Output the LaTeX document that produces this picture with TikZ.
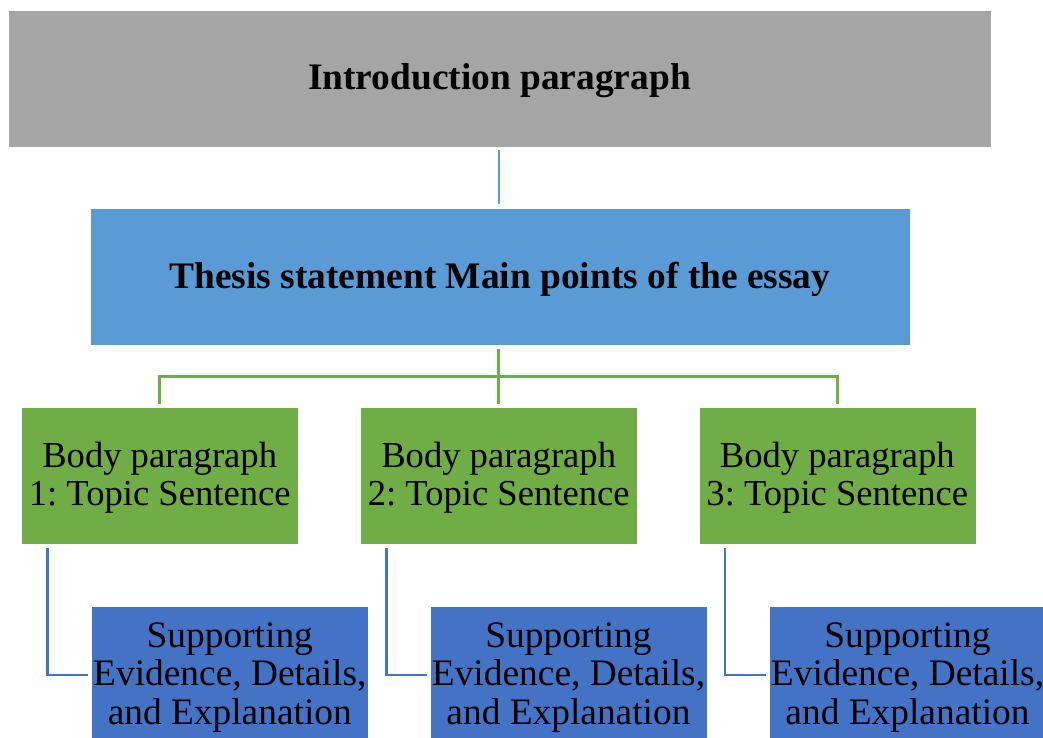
\documentclass[tikz,border=0pt]{standalone}
\usepackage{fontspec}
\setmainfont{Liberation Serif}
\frenchspacing
\definecolor{introgray}{HTML}{A5A5A5}
\definecolor{thesisblue}{HTML}{5B9BD5}
\definecolor{bodygreen}{HTML}{70AD47}
\definecolor{supblue}{HTML}{4472C4}
\newcommand\boxtext[2]{\raisebox{#1}[\height][\depth]{\begin{tabular}{@{}c@{}}#2\end{tabular}}}
\tikzset{
  box/.style={draw=white, line width=0.6pt, inner sep=0pt, align=center, minimum height=137pt},
  headbox/.style={box, font=\fontsize{37.4}{42}\selectfont\bfseries},
  bodybox/.style={box, fill=bodygreen, minimum width=277pt, font=\fontsize{36.6}{38}\selectfont},
  supbox/.style={box, fill=supblue, minimum width=277pt, font=\fontsize{37.4}{38.5}\selectfont},
  introlink/.style={draw=thesisblue, line width=2pt},
  greenlink/.style={draw=bodygreen, line width=2.5pt},
  bluelink/.style={draw=supblue, line width=2.5pt},
}
\begin{document}
\begin{tikzpicture}[x=1pt, y=-1pt]
\useasboundingbox (0,0) rectangle (1043,738);
\clip (0,0) rectangle (1043,738);
\fill[white] (0,0) rectangle (1043,738);

\node[headbox, fill=introgray, minimum width=983pt] (intro) at (499.5,78.5) {\boxtext{-3pt}{Introduction paragraph}};
\node[headbox, fill=thesisblue, minimum width=820pt] (thesis) at (500,277.2) {\boxtext{-2.5pt}{Thesis statement Main points of the essay}};

\node[bodybox] (b1) at (159.7,475.8) {\boxtext{-3.5pt}{Body paragraph\\1: Topic Sentence}};
\node[bodybox] (b2) at (498.7,475.8) {\boxtext{-3.5pt}{Body paragraph\\2: Topic Sentence}};
\node[bodybox] (b3) at (837.3,475.8) {\boxtext{-3.5pt}{Body paragraph\\3: Topic Sentence}};

\node[supbox] (s1) at (229.8,675) {\boxtext{-3pt}{Supporting\\Evidence, Details,\\and Explanation}};
\node[supbox] (s2) at (568.5,675) {\boxtext{-3pt}{Supporting\\Evidence, Details,\\and Explanation}};
\node[supbox] (s3) at (907.5,675) {\boxtext{-3pt}{Supporting\\Evidence, Details,\\and Explanation}};

\coordinate (bus) at (498.7,376.7);

\draw[introlink] ([yshift=-3pt]intro.south -| b2.north) -- ([yshift=4pt]thesis.north -| b2.north);
\draw[greenlink] ([yshift=-3pt]thesis.south -| b2.north) -- ([yshift=3pt]b2.north);
\draw[greenlink] ([yshift=3pt]b1.north) |- (bus) -| ([yshift=3pt]b3.north);

\draw[bluelink] ([xshift=26.5pt,yshift=-3.5pt]b1.south west) |- ([xshift=-3pt]s1.west);
\draw[bluelink] ([xshift=26.5pt,yshift=-3.5pt]b2.south west) |- ([xshift=-3pt]s2.west);
\draw[bluelink] ([xshift=26.5pt,yshift=-3.5pt]b3.south west) |- ([xshift=-3pt]s3.west);
\end{tikzpicture}
\end{document}
